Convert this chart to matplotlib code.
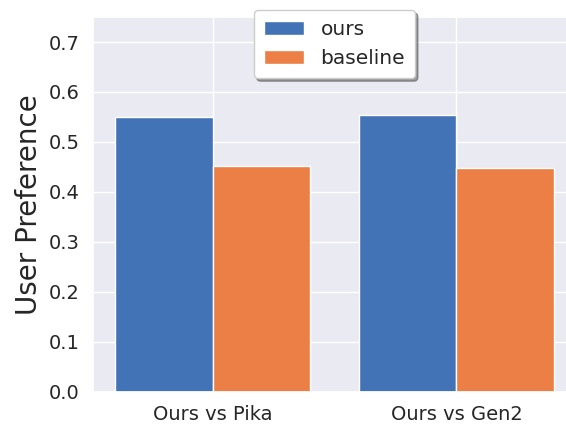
import numpy as np
import matplotlib
matplotlib.use('Agg')
import matplotlib.pyplot as plt
import seaborn as sns

# データ
groups = ['Ours vs Pika', 'Ours vs Gen2']
ours = [0.549, 0.553]
baseline = [0.451, 0.447]

sns.set_theme(style='darkgrid')
plt.rcParams['font.family'] = ['DejaVu Sans']

fig = plt.figure(figsize=(5.66, 4.24), dpi=100)
ax = fig.add_axes([0.1643, 0.0755, 0.8534, 0.8844])

x = np.arange(len(groups))
width = 0.4
ax.bar(x - width / 2, ours, width, label='ours', color='#4273b7', edgecolor='white', linewidth=1)
ax.bar(x + width / 2, baseline, width, label='baseline', color='#eb7f45', edgecolor='white', linewidth=1)

ax.set_xticks(x)
ax.set_xticklabels(groups, fontsize=14)
ax.set_xlim(-0.49, 1.49)
ax.set_ylim(0, 0.75)
ax.set_yticks(np.arange(0, 0.71, 0.1))
ax.tick_params(axis='y', labelsize=14)
ax.set_ylabel('User Preference', fontsize=20, labelpad=4)

ax.legend(loc='upper center', bbox_to_anchor=(0.5, 1.045), fontsize=14.5,
          shadow=True, frameon=True, facecolor='white', framealpha=1,
          borderpad=0.5)

fig.savefig('out.png', dpi=100)
